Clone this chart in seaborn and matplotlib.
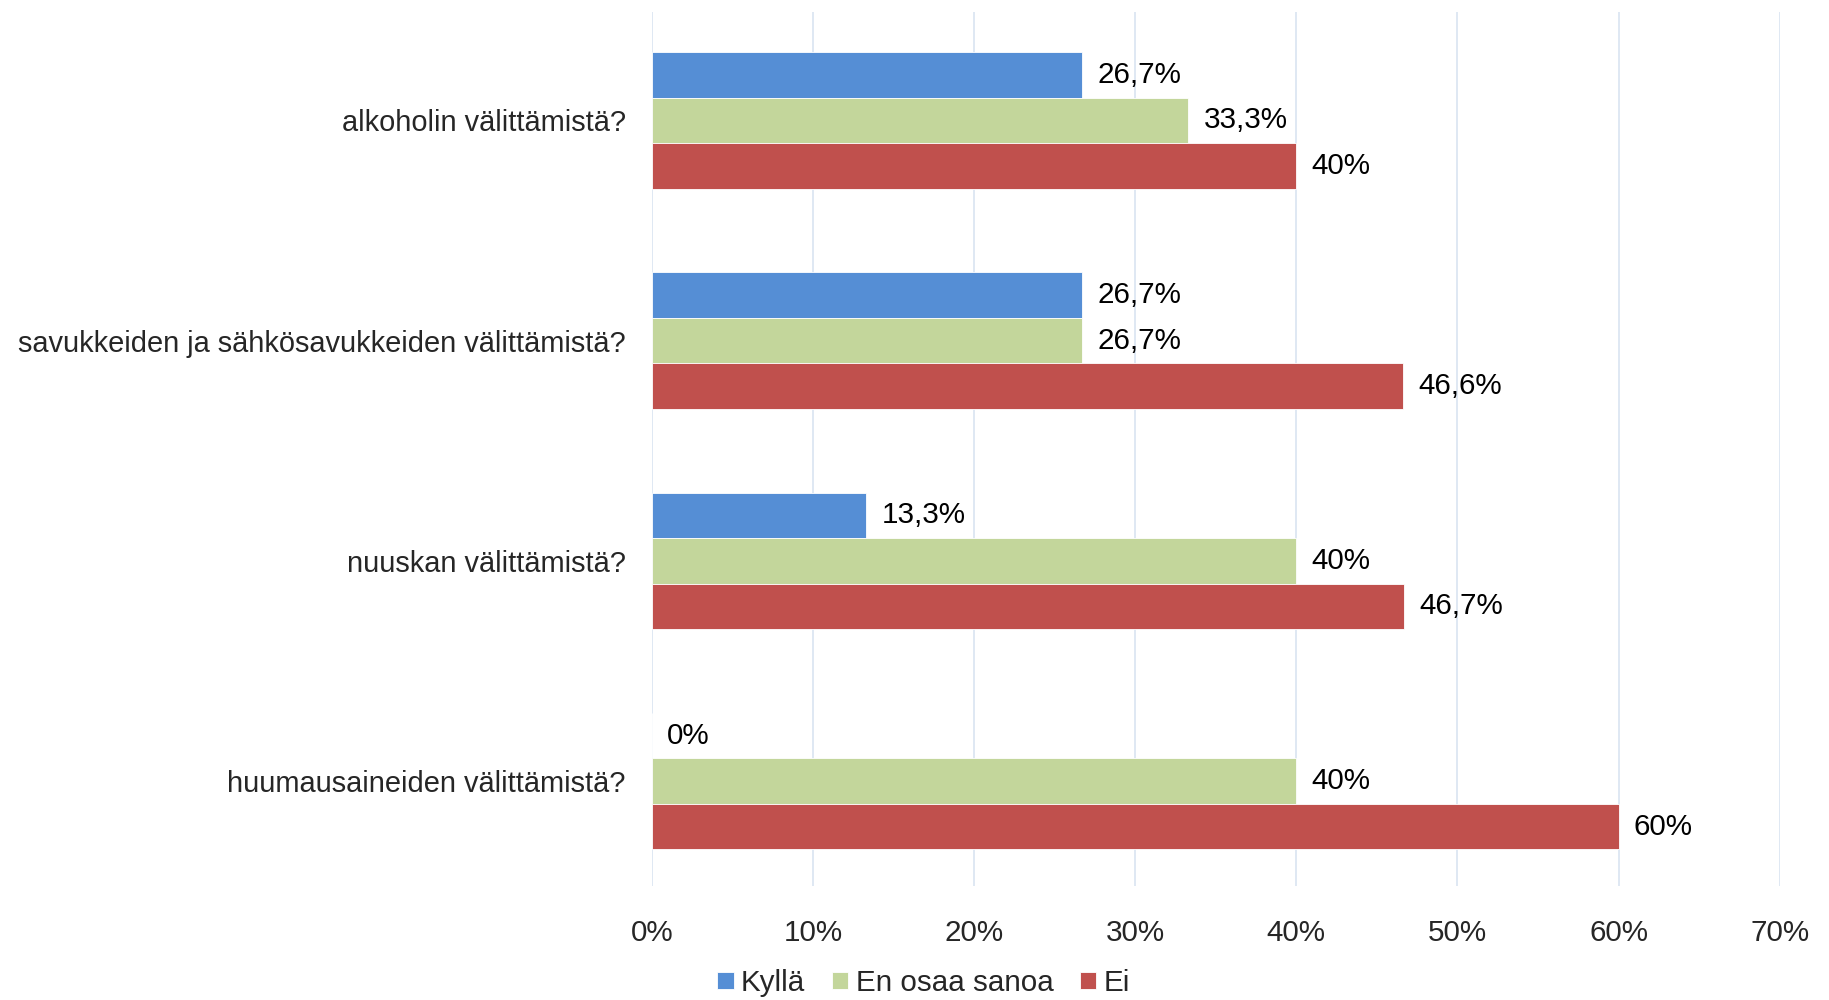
import pandas as pd
import matplotlib.pyplot as plt
import seaborn as sns
from matplotlib.ticker import FuncFormatter

# --- Dados ---
questions = [
    'alkoholin välittämistä?',
    'savukkeiden ja sähkösavukkeiden välittämistä?',
    'nuuskan välittämistä?',
    'huumausaineiden välittämistä?',
]
answers = ['Kyllä', 'En osaa sanoa', 'Ei']
kylla = [26.7, 26.7, 13.3, 0]
en_osaa = [33.3, 26.7, 40, 40]
ei = [40, 46.6, 46.7, 60]

colors = ['#558ED5', '#C3D69B', '#C0504D']
# -----------------------------

rows = []
for ans, vals in zip(answers, [kylla, en_osaa, ei]):
    for q, v in zip(questions, vals):
        rows.append({'kysymys': q, 'vastaus': ans, 'osuus': v})
df = pd.DataFrame(rows)

sns.set_style("white")
plt.rcParams['font.family'] = ['Liberation Sans', 'DejaVu Sans']
plt.rcParams['font.size'] = 21

fig = plt.figure(figsize=(18.29, 10), dpi=100)
ax = fig.add_axes([0.3565, 0.114, 0.6165, 0.874])

sns.barplot(data=df, y='kysymys', x='osuus', hue='vastaus', order=questions,
            hue_order=answers, palette=colors, orient='h', width=0.62,
            edgecolor='white', linewidth=0.6, saturation=1, ax=ax, legend=True)


def fmt_pct(v):
    if abs(v - round(v)) < 1e-9:
        return f"{int(round(v))}%"
    return f"{v:.1f}".replace('.', ',') + '%'


for cont in ax.containers:
    ax.bar_label(cont, labels=[fmt_pct(b.get_width()) for b in cont],
                 padding=11, fontsize=21.3, color='black')

ax.set_xlim(0, 70)
ax.set_ylim(3.476, -0.492)
ax.set_xticks(range(0, 71, 10))
ax.xaxis.set_major_formatter(FuncFormatter(lambda x, _: f"{int(x)}%"))
ax.grid(axis='x', color='#DCE6F2', linewidth=1.3)
ax.set_axisbelow(True)
for s in ax.spines.values():
    s.set_visible(False)
ax.tick_params(axis='x', length=0, pad=24, labelsize=21.3)
ax.tick_params(axis='y', length=0, pad=19, labelsize=20.9)
ax.set_xlabel('')
ax.set_ylabel('')

handles, labels = ax.get_legend_handles_labels()
ax.get_legend().remove()
fig.legend(handles, labels, loc='center', bbox_to_anchor=(0.505, 0.017), ncol=3,
           frameon=False, fontsize=21.3, handlelength=0.55, handleheight=0.55,
           handletextpad=0.25, columnspacing=0.9)

fig.savefig('out.png', dpi=100)
